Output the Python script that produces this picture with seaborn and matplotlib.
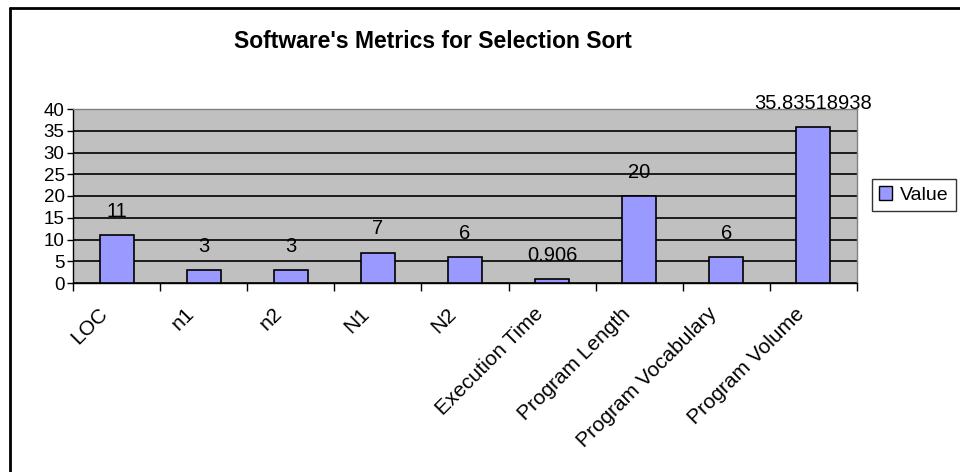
import numpy as np
import pandas as pd
import matplotlib
matplotlib.use("Agg")
import matplotlib.pyplot as plt
import matplotlib.transforms as mtransforms
import seaborn as sns
from matplotlib.lines import Line2D
from matplotlib.patches import Patch

# data
metrics = ["LOC", "n1", "n2", "N1", "N2", "Execution Time",
           "Program Length", "Program Vocabulary", "Program Volume"]
values = [11, 3, 3, 7, 6, 0.906, 20, 6, 35.83518938]
value_labels = ["11", "3", "3", "7", "6", "0.906", "20", "6", "35.83518938"]

df = pd.DataFrame({"metric": metrics, "value": values})

sns.set_theme(style="white")
plt.rcParams["font.family"] = ["Liberation Sans", "DejaVu Sans"]
plt.rcParams["text.color"] = "black"
plt.rcParams["xtick.color"] = "black"
plt.rcParams["ytick.color"] = "black"

W, H = 960, 472
fig = plt.figure(figsize=(W / 100, H / 100), dpi=100)
ax = fig.add_axes([73 / W, 1 - 283 / H, (857 - 73) / W, (283 - 109) / H])

sns.barplot(data=df, x="metric", y="value", color="#9999FF", saturation=1,
            width=0.39, edgecolor="black", linewidth=1.2, ax=ax, zorder=3)

ax.set_facecolor("#C0C0C0")
ax.set_ylim(0, 40)
ax.set_xlim(-0.5, len(metrics) - 0.5)
ax.set_yticks(range(0, 41, 5))
ax.yaxis.grid(True, color="black", linewidth=1.2, zorder=1)
ax.set_axisbelow(True)
ax.set_xlabel("")
ax.set_ylabel("")

for side in ["top", "right"]:
    ax.spines[side].set_color("#808080")
    ax.spines[side].set_linewidth(1)
for side in ["left", "bottom"]:
    ax.spines[side].set_color("black")
    ax.spines[side].set_linewidth(1)

# category ticks at boundaries, labels at centres
ax.set_xticks(np.arange(len(metrics) + 1) - 0.5)
ax.set_xticklabels([])
ax.tick_params(axis="x", which="major", direction="out", length=6, width=1,
               color="black", bottom=True)
ax.set_xticks(np.arange(len(metrics)), minor=True)
ax.set_xticklabels(metrics, minor=True, rotation=45, ha="right", va="center",
                   rotation_mode="anchor", fontsize=15)
ax.tick_params(axis="x", which="minor", length=0, pad=20)
shift = mtransforms.ScaledTranslation(-12 / 100, 0, fig.dpi_scale_trans)
for lab in ax.get_xticklabels(minor=True):
    lab.set_transform(lab.get_transform() + shift)
ax.tick_params(axis="y", direction="out", length=4, width=1, color="black",
               left=True, labelsize=13.5, pad=2)

for i, (v, lab) in enumerate(zip(values, value_labels)):
    ax.annotate(lab, (i, v), xytext=(0, 17), textcoords="offset points",
                ha="center", va="center", fontsize=14.5, color="black",
                annotation_clip=False)

fig.text(433 / W, 1 - 42 / H, "Software's Metrics for Selection Sort",
         ha="center", va="center", fontsize=16.5, fontweight="bold")

# outer chart border (right and bottom run off the image)
fig.add_artist(Line2D([10 / W, 10 / W], [0, 1 - 8 / H], transform=fig.transFigure,
                      color="black", linewidth=2))
fig.add_artist(Line2D([10 / W, 1], [1 - 8 / H, 1 - 8 / H], transform=fig.transFigure,
                      color="black", linewidth=2))

handle = Patch(facecolor="#9999FF", edgecolor="black", linewidth=1)
leg = fig.legend([handle], ["Value"], loc="center left",
                 bbox_to_anchor=(872 / W, 1 - 195 / H), frameon=True,
                 fontsize=14, handlelength=0.7, handleheight=0.7,
                 handletextpad=0.4, borderpad=0.35, borderaxespad=0,
                 fancybox=False)
leg.get_frame().set_edgecolor("black")
leg.get_frame().set_linewidth(1)

fig.savefig("out.png", dpi=100)
